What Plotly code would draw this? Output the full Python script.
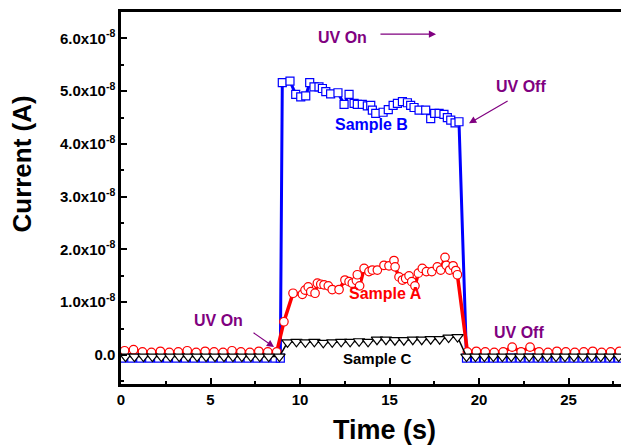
import plotly.graph_objects as go

# ---------------- data (time in s, current in units of 1e-8 A) ----------------
tA = [0.2, 0.7, 1.2, 1.7, 2.2, 2.7, 3.2, 3.7, 4.2, 4.7, 5.2, 5.7, 6.2, 6.7, 7.2, 7.7, 8.2, 8.7,
      9.1, 9.61, 10.13, 10.28, 10.46, 10.6, 10.84, 10.97, 11.16, 11.34, 11.58, 11.8, 12.18,
      12.51, 12.74, 12.92, 13.15, 13.2, 13.33, 13.58, 13.85, 14.04, 14.32, 14.69, 14.97, 15.25,
      15.31, 15.53, 15.72, 15.9, 16.09, 16.24, 16.42, 16.61, 16.83, 17.06, 17.36, 17.67, 17.86,
      18.1, 18.17, 18.36, 18.55, 18.7, 18.79,
      19.35, 19.85, 20.35, 20.85, 21.35, 21.85, 22.35, 22.85, 23.35, 23.85, 24.35, 24.85,
      25.35, 25.85, 26.35, 26.85, 27.35, 27.85]
iA = [0.08, 0.10, 0.06, 0.05, 0.07, 0.05, 0.06, 0.08, 0.05, 0.07, 0.06, 0.05, 0.08, 0.06, 0.05, 0.07, 0.06, 0.06,
      0.63, 1.17, 1.15, 1.23, 1.29, 1.20, 1.17, 1.36, 1.34, 1.33, 1.31, 1.24, 1.24,
      1.42, 1.39, 1.36, 1.41, 1.52, 1.31, 1.64, 1.58, 1.61, 1.61, 1.70, 1.69, 1.79,
      1.67, 1.48, 1.42, 1.45, 1.50, 1.39, 1.31, 1.55, 1.64, 1.58, 1.58, 1.67, 1.61,
      1.85, 1.70, 1.61, 1.69, 1.60, 1.52,
      0.06, 0.07, 0.06, 0.05, 0.06, 0.15, 0.06, 0.15, 0.06, 0.05, 0.07, 0.06,
      0.05, 0.06, 0.07, 0.05, 0.06, 0.07]

tB = [0.1, 0.6, 1.1, 1.6, 2.1, 2.6, 3.1, 3.6, 4.1, 4.6, 5.1, 5.6, 6.1, 6.6, 7.1, 7.6, 8.1, 8.6, 8.9,
      9.01, 9.44, 9.76, 10.04, 10.32, 10.54, 10.78, 11.06, 11.25, 11.44, 11.71, 12.12, 12.46,
      12.74, 13.02, 13.2, 13.48, 13.76, 13.95, 14.04, 14.23, 14.64, 14.93, 15.2, 15.44, 15.72,
      16.0, 16.18, 16.37, 16.65, 17.02, 17.3, 17.52, 17.77, 18.04, 18.23, 18.42, 18.66, 18.88,
      19.3, 19.8, 20.3, 20.8, 21.3, 21.8, 22.3, 22.8, 23.3, 23.8, 24.3, 24.8, 25.3, 25.8,
      26.3, 26.8, 27.3, 27.8]
iB = [-0.06] * 19 + [
      5.16, 5.19, 4.94, 4.89, 4.91, 5.16, 5.08, 5.08, 5.05, 4.99, 4.95, 4.97, 4.75,
      4.94, 4.77, 4.75, 4.75, 4.72, 4.73, 4.64, 4.58, 4.60, 4.65, 4.73, 4.77, 4.80,
      4.78, 4.73, 4.69, 4.64, 4.64, 4.48, 4.58, 4.58, 4.56, 4.50, 4.45, 4.40, 4.42] + [-0.06] * 18

tC = [0.25, 0.75, 1.25, 1.75, 2.25, 2.75, 3.25, 3.75, 4.25, 4.75, 5.25, 5.75, 6.25, 6.75, 7.25, 7.75, 8.25, 8.85,
      9.3, 9.8, 10.3, 10.8, 11.3, 11.8, 12.3, 12.8, 13.3, 13.8, 14.3, 14.8, 15.3, 15.8, 16.3,
      16.8, 17.3, 17.8, 18.3, 18.8,
      19.3, 19.8, 20.3, 20.8, 21.3, 21.8, 22.3, 22.8, 23.3, 23.8, 24.3, 24.8, 25.3, 25.8,
      26.3, 26.8, 27.3, 27.8]
iC = [-0.03] * 18 + [
      0.24, 0.25, 0.24, 0.25, 0.23, 0.24, 0.25, 0.25, 0.26, 0.25, 0.29, 0.29, 0.28, 0.28, 0.29,
      0.29, 0.30, 0.30, 0.33, 0.34] + [-0.03] * 18

y_tickvals = [0, 1, 2, 3, 4, 5, 6]
y_ticktext = ["0.0", "1.0x10<sup>-8</sup>", "2.0x10<sup>-8</sup>", "3.0x10<sup>-8</sup>",
              "4.0x10<sup>-8</sup>", "5.0x10<sup>-8</sup>", "6.0x10<sup>-8</sup>"]
x_tickvals = [0, 5, 10, 15, 20, 25]

scale = 1e-8
FONT = "Arial"
PURPLE = "#800080"

fig = go.Figure()

def add(t, i, color, symbol, size, lw, name):
    fig.add_trace(go.Scatter(
        x=t, y=[v * scale for v in i], mode="lines+markers", name=name,
        line=dict(color=color, width=lw),
        marker=dict(symbol=symbol, size=size, color="white",
                    line=dict(color=color, width=1.2)),
        showlegend=False, cliponaxis=True))

add(tB, iB, "#0000ff", "square", 8, 3, "Sample B")
add(tA, iA, "#ff0000", "circle", 8.5, 3.5, "Sample A")
add(tC, iC, "#000000", "triangle-down", 10, 1.5, "Sample C")

def lbl(x, y, text, color, size=16):
    fig.add_annotation(x=x, y=y * scale, text=text, showarrow=False,
                       font=dict(family=FONT, size=size, color=color, weight="bold"))

lbl(13.97, 4.36, "Sample B", "#0000ff")
lbl(14.8, 1.17, "Sample A", "#ff0000")
lbl(14.3, -0.06, "Sample C", "#000000", 15)
lbl(12.35, 6.02, "UV On", PURPLE)
lbl(22.35, 5.08, "UV Off", PURPLE)
lbl(5.42, 0.66, "UV On", PURPLE)
lbl(22.23, 0.42, "UV Off", PURPLE)

def arrow(x0, y0, x1, y1):
    fig.add_annotation(x=x1, y=y1 * scale, ax=x0, ay=y0 * scale, axref="x", ayref="y",
                       xref="x", yref="y", text="", showarrow=True, arrowhead=2,
                       arrowsize=1.2, arrowwidth=1.2, arrowcolor=PURPLE)

arrow(14.41, 6.08, 17.6, 6.08)
arrow(21.68, 4.83, 19.44, 4.39)
arrow(7.32, 0.44, 8.55, 0.15)

# axis titles (placed as in the reference)
fig.add_annotation(xref="paper", yref="paper", x=-0.198, y=0.59, text="Current (A)",
                   textangle=-90, showarrow=False, xanchor="center", yanchor="middle",
                   font=dict(family=FONT, size=26, color="black", weight="bold"))
fig.add_annotation(xref="paper", yref="paper", x=0.526, y=-0.124, text="Time (s)",
                   showarrow=False, xanchor="center", yanchor="middle",
                   font=dict(family=FONT, size=27, color="black", weight="bold"))

axis_common = dict(showline=True, linecolor="black", linewidth=2.5, ticks="inside",
                   tickwidth=2, ticklen=6, tickcolor="black", showgrid=False, zeroline=False,
                   tickfont=dict(family=FONT, size=15, color="black", weight="bold"))

fig.update_layout(
    width=621, height=448,
    margin=dict(l=121, r=0, t=12, b=64),
    plot_bgcolor="white", paper_bgcolor="white",
    xaxis=dict(range=[0, 27.93], tickvals=x_tickvals, mirror=True,
               minor=dict(ticks="inside", dtick=2.5, tick0=0, ticklen=3, tickwidth=2, tickcolor="black"),
               **axis_common),
    yaxis=dict(range=[-0.55e-8, 6.5e-8], tickvals=[v * scale for v in y_tickvals], ticktext=y_ticktext,
               minor=dict(ticks="inside", dtick=0.5e-8, tick0=0, ticklen=3, tickwidth=2, tickcolor="black"),
               **axis_common),
)

fig.write_html("out.html")
